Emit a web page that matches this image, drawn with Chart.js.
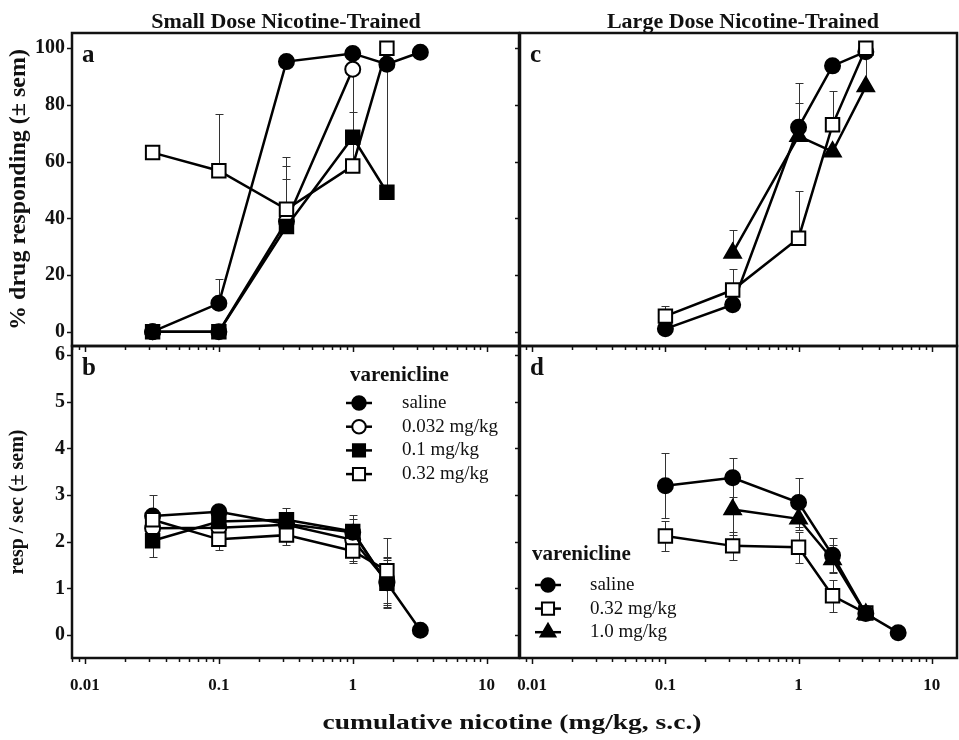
<!DOCTYPE html>
<html>
<head>
<meta charset="utf-8">
<title>Varenicline and nicotine discrimination</title>
<script src="https://cdn.jsdelivr.net/npm/chart.js@4.4.1/dist/chart.umd.min.js"></script>
<style>
  body { margin: 0; background: #fff; }
  #fig { position: relative; width: 959px; height: 740px; overflow: hidden;
         font-family: "Liberation Serif", "Times New Roman", serif; color: #111; }
  #fig canvas { position: absolute; left: 0; top: 0; }
  .head { position: absolute; top: 9px; width: 446px; text-align: center; font-weight: bold;
          font-size: 20px; line-height: 24px; transform: scaleX(1.1); }
  #xtitle { position: absolute; left: 62px; width: 900px; top: 708px; text-align: center;
            font-weight: bold; font-size: 22px; line-height: 28px; transform: scaleX(1.25); }
</style>
</head>
<body>
<div id="fig">
  <canvas id="panelA" width="959" height="740"></canvas>
  <canvas id="panelB" width="959" height="740"></canvas>
  <canvas id="panelC" width="959" height="740"></canvas>
  <canvas id="panelD" width="959" height="740"></canvas>
  <div class="head" style="left:63px">Small Dose Nicotine-Trained</div>
  <div class="head" style="left:520px">Large Dose Nicotine-Trained</div>
  <div id="xtitle">cumulative nicotine (mg/kg, s.c.)</div>
</div>
<script>
// tick labels
const xTickLabels = [0.01, 0.1, 1, 10];
const pctTicks = [0, 20, 40, 60, 80, 100];
const rateTicks = [0, 1, 2, 3, 4, 5, 6];

// a: small dose trained, % drug responding
const aSalineX = [0.032, 0.1, 0.32, 1, 1.8, 3.2];
const aSaline = [0, 10, 95.3, 98.2, 94.4, 98.6];
const aSalineSem = [0, 8.5, 0, 0, 0, 0];
const aV0032X = [0.032, 0.1, 0.32, 1];
const aV0032 = [0, 0, 39, 92.6];
const aV0032Sem = [0, 0, 15, 0];
const aV01X = [0.032, 0.1, 0.32, 1, 1.8];
const aV01 = [0, 0, 37.1, 68.6, 49.2];
const aV01Sem = [0, 0, 21.4, 9, 45];
const aV032X = [0.032, 0.1, 0.32, 1, 1.8];
const aV032 = [63.2, 56.8, 43.2, 58.5, 100];
const aV032Sem = [0, 20, 18.6, 32.7, 0];

// b: small dose trained, response rate
const bSalineX = [0.032, 0.1, 0.32, 1, 1.8, 3.2];
const bSaline = [2.55, 2.64, 2.38, 2.2, 1.12, 0.1];
const bSalineSem = [0.46, 0.1, 0.1, 0.1, 0.55, 0];
const bV0032X = [0.032, 0.1, 0.32, 1, 1.8];
const bV0032 = [2.29, 2.3, 2.36, 2.04, 1.15];
const bV0032Sem = [0.1, 0.1, 0.1, 0.45, 0.5];
const bV01X = [0.032, 0.1, 0.32, 1, 1.8];
const bV01 = [2.02, 2.43, 2.47, 2.22, 1.11];
const bV01Sem = [0.34, 0.1, 0.25, 0.36, 0.5];
const bV032X = [0.032, 0.1, 0.32, 1, 1.8];
const bV032 = [2.47, 2.05, 2.14, 1.8, 1.38];
const bV032Sem = [0.15, 0.23, 0.22, 0.26, 0.7];

// c: large dose trained, % drug responding
const cSalineX = [0.1, 0.32, 1, 1.8, 3.2];
const cSaline = [1, 9.5, 72.1, 93.8, 98.8];
const cSalineSem = [0, 0, 15.6, 0, 0];
const cV032X = [0.1, 0.32, 1, 1.8, 3.2];
const cV032 = [5.5, 14.7, 33, 73, 100];
const cV032Sem = [3.6, 7.3, 16.8, 12, 0];
const cV10X = [0.32, 1, 1.8, 3.2];
const cV10 = [27.8, 69, 63.5, 86.5];
const cV10Sem = [8, 11.6, 0, 12];

// d: large dose trained, response rate
const dSalineX = [0.1, 0.32, 1, 1.8, 3.2, 5.6];
const dSaline = [3.2, 3.37, 2.84, 1.71, 0.46, 0.05];
const dSalineSem = [0.7, 0.42, 0.53, 0.36, 0.1, 0];
const dV032X = [0.1, 0.32, 1, 1.8, 3.2];
const dV032 = [2.12, 1.91, 1.88, 0.84, 0.47];
const dV032Sem = [0.33, 0.3, 0.33, 0.34, 0];
const dV10X = [0.32, 1, 1.8, 3.2];
const dV10 = [2.69, 2.49, 1.62, 0.45];
const dV10Sem = [0.55, 0.25, 0.3, 0.1];

Chart.defaults.font.family = '"Liberation Serif", "Times New Roman", serif';
Chart.defaults.color = '#111';

const W = 959, H = 740;

const marks = {
  saline: { style: 'circle', r: 7.5, fill: '#000' },
  openCircle: { style: 'circle', r: 7.5, fill: '#fff' },
  fillSquare: { style: 'rect', r: 9.5, fill: '#000' },
  openSquare: { style: 'rect', r: 9.5, fill: '#fff' },
  triangle: { style: 'triangle', r: 9.5, fill: '#000' }
};

function pts(xs, ys) {
  return xs.map((x, i) => ({ x: x, y: ys[i] }));
}

function series(label, xs, ys, sem, m, order) {
  return {
    label: label,
    data: pts(xs, ys),
    sem: sem,
    order: order,
    showLine: true,
    borderColor: '#000',
    borderWidth: 2.5,
    pointStyle: m.style,
    pointRadius: m.r,
    pointHoverRadius: m.r,
    pointBackgroundColor: m.fill,
    pointBorderColor: '#000',
    pointBorderWidth: 2
  };
}

function drawMarker(ctx, style, r, x, y, fill) {
  ctx.beginPath();
  if (style === 'rect') {
    const s = r * Math.SQRT1_2;
    ctx.rect(x - s, y - s, 2 * s, 2 * s);
  } else if (style === 'triangle') {
    for (let k = 0; k < 3; k++) {
      const a = k * 2 * Math.PI / 3;
      const px = x + Math.sin(a) * r, py = y - Math.cos(a) * r;
      if (k === 0) ctx.moveTo(px, py); else ctx.lineTo(px, py);
    }
    ctx.closePath();
  } else {
    ctx.arc(x, y, r, 0, 2 * Math.PI);
  }
  ctx.fillStyle = fill;
  ctx.fill();
  ctx.lineWidth = 2;
  ctx.strokeStyle = '#000';
  ctx.stroke();
}

function logTicks(min, max) {
  const out = [];
  for (let e = -3; e <= 2; e++) {
    for (let k = 1; k <= 9; k++) {
      const v = k * Math.pow(10, e);
      if (v >= min * 0.9999 && v <= max * 1.0001) out.push({ value: v, major: k === 1 });
    }
  }
  return out;
}

// sem bars, drawn under the lines and markers
const errorBars = {
  id: 'errorBars',
  beforeDatasetsDraw(chart, args, opts) {
    const ctx = chart.ctx, xs = chart.scales.x, ys = chart.scales.y;
    ctx.save();
    ctx.strokeStyle = '#333';
    ctx.lineWidth = 1;
    chart.data.datasets.forEach(d => {
      d.data.forEach((p, i) => {
        const e = d.sem[i];
        if (!e) return;
        const px = Math.round(xs.getPixelForValue(p.x)) + 0.5;
        const py0 = ys.getPixelForValue(p.y);
        const ends = opts.both ? [p.y + e, p.y - e] : [p.y + e];
        ends.forEach(v => {
          const py = Math.round(ys.getPixelForValue(v)) + 0.5;
          ctx.beginPath();
          ctx.moveTo(px, py0);
          ctx.lineTo(px, py);
          ctx.moveTo(px - 4, py);
          ctx.lineTo(px + 4, py);
          ctx.stroke();
        });
      });
    });
    ctx.restore();
  }
};

// box, outside tick marks and panel letter
const frameTicks = {
  id: 'frameTicks',
  afterDraw(chart, args, o) {
    const ctx = chart.ctx, a = chart.chartArea, x = chart.scales.x, y = chart.scales.y;
    ctx.save();
    ctx.strokeStyle = '#111';
    ctx.lineWidth = 1.5;
    x.ticks.forEach(t => {
      const px = Math.round(x.getPixelForValue(t.value)) + 0.5;
      ctx.beginPath();
      ctx.moveTo(px, a.bottom);
      ctx.lineTo(px, a.bottom + (t.major ? 6 : 4));
      ctx.stroke();
    });
    y.ticks.forEach(t => {
      const py = Math.round(y.getPixelForValue(t.value)) + 0.5;
      ctx.beginPath();
      ctx.moveTo(a.left - 5, py);
      ctx.lineTo(a.left, py);
      ctx.stroke();
    });
    ctx.lineWidth = 2.5;
    ctx.strokeRect(a.left, a.top, a.right - a.left, a.bottom - a.top);
    ctx.fillStyle = '#111';
    ctx.font = 'bold 25px "Liberation Serif"';
    ctx.textBaseline = 'alphabetic';
    ctx.fillText(o.letter, a.left + 10, a.top + 29);
    ctx.restore();
  }
};

const varLegend = {
  id: 'varLegend',
  afterDraw(chart, args, o) {
    const ctx = chart.ctx;
    ctx.save();
    ctx.fillStyle = '#111';
    ctx.font = 'bold 21px "Liberation Serif"';
    ctx.textBaseline = 'alphabetic';
    ctx.fillText(o.title, o.titleX, o.titleY);
    ctx.font = '19px "Liberation Serif"';
    ctx.textBaseline = 'middle';
    chart.data.datasets.forEach((d, i) => {
      const yy = o.rowY + i * o.rowGap;
      ctx.strokeStyle = '#000';
      ctx.lineWidth = 2.5;
      ctx.beginPath();
      ctx.moveTo(o.markX - 13, yy);
      ctx.lineTo(o.markX + 13, yy);
      ctx.stroke();
      drawMarker(ctx, d.pointStyle, d.pointRadius * 0.9, o.markX, yy, d.pointBackgroundColor);
      ctx.fillStyle = '#111';
      ctx.fillText(d.label, o.textX, yy);
    });
    ctx.restore();
  }
};

function makePanel(id, p) {
  const axisW = p.yLabels ? p.frame.l : 0;
  const axisH = p.xLabels ? 60 : 0;
  return new Chart(document.getElementById(id), {
    type: 'scatter',
    data: { datasets: p.datasets },
    plugins: [errorBars, frameTicks, varLegend],
    options: {
      responsive: false,
      animation: false,
      devicePixelRatio: 1,
      events: [],
      layout: {
        autoPadding: false,
        padding: {
          left: p.frame.l - axisW,
          top: p.frame.t,
          right: W - p.frame.r,
          bottom: H - p.frame.b - axisH
        }
      },
      scales: {
        x: {
          type: 'logarithmic',
          min: Math.pow(10, p.xLog[0]),
          max: Math.pow(10, p.xLog[1]),
          afterBuildTicks: s => { s.ticks = logTicks(s.min, s.max); },
          afterFit: s => { s.height = axisH; s.paddingLeft = 0; s.paddingRight = 0; },
          grid: { display: false, drawTicks: false },
          border: { display: false },
          ticks: {
            display: p.xLabels,
            autoSkip: false,
            maxRotation: 0,
            minRotation: 0,
            padding: 17,
            color: '#111',
            font: { size: 17, weight: 'bold' },
            callback: v => xTickLabels.some(l => Math.abs(l - v) / l < 1e-6) ? String(v) : ''
          }
        },
        y: {
          min: p.yRange[0],
          max: p.yRange[1],
          afterBuildTicks: s => { s.ticks = p.yTicks.map(v => ({ value: v })); },
          afterFit: s => { s.width = axisW; s.paddingTop = 0; s.paddingBottom = 0; },
          grid: { display: false, drawTicks: false },
          border: { display: false },
          ticks: {
            display: p.yLabels,
            padding: 7,
            color: '#111',
            font: { size: 20, weight: 'bold' }
          },
          title: {
            display: !!p.yTitle,
            text: p.yTitle || '',
            color: '#111',
            font: { size: p.yTitleSize, weight: 'bold' },
            padding: { top: p.yTitlePad, bottom: 0 }
          }
        }
      },
      plugins: {
        legend: { display: false },
        tooltip: { enabled: false },
        errorBars: { both: p.bothBars },
        frameTicks: { letter: p.letter },
        varLegend: p.legend || false
      }
    }
  });
}

makePanel('panelA', {
  frame: { l: 72, t: 33, r: 519, b: 346 },
  xLog: [-2.097, 1.242],
  yRange: [-5.05, 105.4],
  yTicks: pctTicks,
  xLabels: false,
  yLabels: true,
  yTitle: '% drug responding (± sem)',
  yTitleSize: 24,
  yTitlePad: 4,
  letter: 'a',
  bothBars: false,
  datasets: [
    series('saline', aSalineX, aSaline, aSalineSem, marks.saline, 0),
    series('0.032 mg/kg', aV0032X, aV0032, aV0032Sem, marks.openCircle, 3),
    series('0.1 mg/kg', aV01X, aV01, aV01Sem, marks.fillSquare, 2),
    series('0.32 mg/kg', aV032X, aV032, aV032Sem, marks.openSquare, 1)
  ]
});

makePanel('panelB', {
  frame: { l: 72, t: 346, r: 519, b: 658 },
  xLog: [-2.097, 1.242],
  yRange: [-0.493, 6.193],
  yTicks: rateTicks,
  xLabels: true,
  yLabels: true,
  yTitle: 'resp / sec (± sem)',
  yTitleSize: 20,
  yTitlePad: 6,
  letter: 'b',
  bothBars: true,
  legend: { title: 'varenicline', titleX: 350, titleY: 381, markX: 359, textX: 402, rowY: 403, rowGap: 23.7 },
  datasets: [
    series('saline', bSalineX, bSaline, bSalineSem, marks.saline, 2),
    series('0.032 mg/kg', bV0032X, bV0032, bV0032Sem, marks.openCircle, 3),
    series('0.1 mg/kg', bV01X, bV01, bV01Sem, marks.fillSquare, 1),
    series('0.32 mg/kg', bV032X, bV032, bV032Sem, marks.openSquare, 0)
  ]
});

makePanel('panelC', {
  frame: { l: 520, t: 33, r: 957, b: 346 },
  xLog: [-2.092, 1.19],
  yRange: [-5.05, 105.4],
  yTicks: pctTicks,
  xLabels: false,
  yLabels: false,
  letter: 'c',
  bothBars: false,
  datasets: [
    series('saline', cSalineX, cSaline, cSalineSem, marks.saline, 1),
    series('0.32 mg/kg', cV032X, cV032, cV032Sem, marks.openSquare, 0),
    series('1.0 mg/kg', cV10X, cV10, cV10Sem, marks.triangle, 2)
  ]
});

makePanel('panelD', {
  frame: { l: 520, t: 346, r: 957, b: 658 },
  xLog: [-2.092, 1.19],
  yRange: [-0.493, 6.193],
  yTicks: rateTicks,
  xLabels: true,
  yLabels: false,
  letter: 'd',
  bothBars: true,
  legend: { title: 'varenicline', titleX: 532, titleY: 560, markX: 548, textX: 590, rowY: 585, rowGap: 23.6 },
  datasets: [
    series('saline', dSalineX, dSaline, dSalineSem, marks.saline, 0),
    series('0.32 mg/kg', dV032X, dV032, dV032Sem, marks.openSquare, 1),
    series('1.0 mg/kg', dV10X, dV10, dV10Sem, marks.triangle, 2)
  ]
});
</script>
</body>
</html>
